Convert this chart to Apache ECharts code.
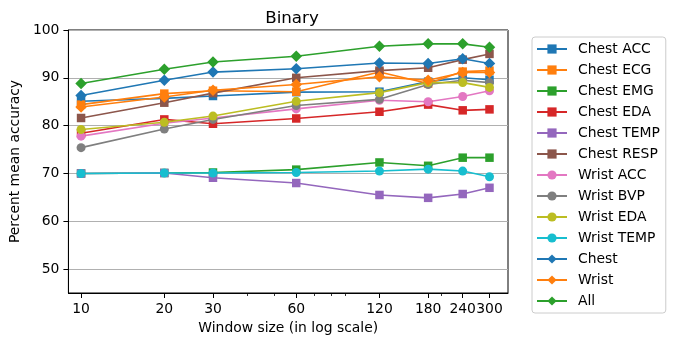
<!DOCTYPE html>
<html>
<head>
<meta charset="utf-8">
<script src="https://cdn.jsdelivr.net/npm/echarts@6/dist/echarts.min.js"></script>
<style>html,body{margin:0;padding:0;background:#fff}#c{width:674px;height:345px}</style>
</head>
<body>
<div id="c"></div>
<script>
var windows = [10, 20, 30, 60, 120, 180, 240, 300];
var minorTicks = [40, 50, 70, 80, 90, 200];
var yTicks = [50, 60, 70, 80, 90, 100];

var chestACC  = [85.1, 85.7, 86.2, 87.0, 87.1, 89.2, 90.0, 89.6];
var chestECG  = [84.4, 86.7, 87.3, 87.1, 91.2, 88.8, 91.3, 91.5];
var chestEMG  = [70.0, 70.1, 70.2, 70.8, 72.3, 71.6, 73.3, 73.3];
var chestEDA  = [78.4, 81.3, 80.4, 81.5, 82.9, 84.4, 83.2, 83.4];
var chestTEMP = [70.0, 70.1, 69.1, 68.0, 65.5, 64.9, 65.7, 67.0];
var chestRESP = [81.6, 84.8, 86.8, 90.0, 91.5, 92.1, 93.8, 95.0];
var wristACC  = [77.8, 80.5, 81.6, 83.5, 85.3, 85.0, 86.1, 87.3];
var wristBVP  = [75.4, 79.3, 81.3, 84.2, 85.5, 88.6, 89.5, 89.0];
var wristEDA  = [79.2, 80.7, 82.0, 85.1, 86.9, 89.0, 89.0, 88.0];
var wristTEMP = [70.0, 70.1, 70.1, 70.2, 70.5, 70.9, 70.5, 69.3];
var chestAll  = [86.3, 89.5, 91.2, 91.9, 93.1, 93.0, 94.0, 93.0];
var wristAll  = [83.9, 86.0, 87.4, 88.6, 90.2, 89.5, 91.1, 91.1];
var allSens   = [88.8, 91.8, 93.3, 94.5, 96.6, 97.1, 97.1, 96.4];

var seriesDefs = [
  ['Chest ACC', chestACC, '#1f77b4', 'rect'],
  ['Chest ECG', chestECG, '#ff7f0e', 'rect'],
  ['Chest EMG', chestEMG, '#2ca02c', 'rect'],
  ['Chest EDA', chestEDA, '#d62728', 'rect'],
  ['Chest TEMP', chestTEMP, '#9467bd', 'rect'],
  ['Chest RESP', chestRESP, '#8c564b', 'rect'],
  ['Wrist ACC', wristACC, '#e377c2', 'circle'],
  ['Wrist BVP', wristBVP, '#7f7f7f', 'circle'],
  ['Wrist EDA', wristEDA, '#bcbd22', 'circle'],
  ['Wrist TEMP', wristTEMP, '#17becf', 'circle'],
  ['Chest', chestAll, '#1f77b4', 'diamond'],
  ['Wrist', wristAll, '#ff7f0e', 'diamond'],
  ['All', allSens, '#2ca02c', 'diamond']
];

var FONT = 'DejaVu Sans';
var series = seriesDefs.map(function (d) {
  return {
    name: d[0],
    type: 'line',
    xAxisIndex: 0,
    data: windows.map(function (w, i) { return [w, d[1][i]]; }),
    symbol: d[3],
    symbolSize: d[3] === 'diamond' ? 11.5 : (d[3] === 'rect' ? 8.5 : 9),
    lineStyle: { width: 1.6, color: d[2] },
    itemStyle: { color: d[2] },
    animation: false
  };
});

var chart = echarts.init(document.getElementById('c'), null, { renderer: 'canvas' });
chart.setOption({
  animation: false,
  textStyle: { fontFamily: FONT },
  title: {
    text: 'Binary', left: 287, top: 5, textAlign: 'center',
    textStyle: { fontFamily: FONT, fontSize: 16.7, fontWeight: 'normal', color: '#000' }
  },
  grid: { left: 66, top: 30, width: 442, height: 263, show: true, borderColor: '#000', borderWidth: 1, backgroundColor: 'transparent' },
  legend: {
    orient: 'vertical', left: 532, top: 37,
    padding: [5, 6, 5, 4],
    itemWidth: 30, itemHeight: 11.5, itemGap: 7,
    borderColor: '#cccccc', borderWidth: 1, borderRadius: 3,
    textStyle: { fontFamily: FONT, fontSize: 13.9, color: '#000', lineHeight: 14, padding: [0, 0, 0, 6] },
    data: seriesDefs.map(function (d) { return d[0]; })
  },
  xAxis: [{
    type: 'log', logBase: 10, min: 9, max: 350, position: 'bottom',
    name: 'Window size (in log scale)', nameLocation: 'middle', nameGap: 27,
    nameTextStyle: { fontFamily: FONT, fontSize: 13.9, color: '#000' },
    axisLine: { show: true, lineStyle: { color: '#000', width: 1 } },
    axisTick: { show: true, length: 5, customValues: windows, lineStyle: { color: '#000', width: 1 } },
    axisLabel: { customValues: windows, margin: 9, fontFamily: FONT, fontSize: 13.9, color: '#000', hideOverlap: false },
    splitLine: { show: false }, minorTick: { show: false }
  }, {
    type: 'log', logBase: 10, min: 9, max: 350, position: 'bottom',
    axisLine: { show: false },
    axisTick: { show: true, length: 3, customValues: minorTicks, lineStyle: { color: '#000', width: 0.8 } },
    axisLabel: { show: false },
    splitLine: { show: false }
  }],
  yAxis: {
    type: 'value', min: 45, max: 100,
    name: 'Percent mean accuracy', nameLocation: 'middle', nameGap: 41,
    nameTextStyle: { fontFamily: FONT, fontSize: 13.9, color: '#000' },
    axisLine: { show: true, lineStyle: { color: '#000', width: 1 } },
    axisTick: { show: true, length: 5, customValues: yTicks, lineStyle: { color: '#000', width: 1 } },
    axisLabel: { customValues: yTicks, margin: 9, fontFamily: FONT, fontSize: 13.9, color: '#000' },
    splitLine: { show: true, lineStyle: { color: '#b0b0b0', width: 1 } }
  },
  series: series
});
</script>
</body>
</html>
